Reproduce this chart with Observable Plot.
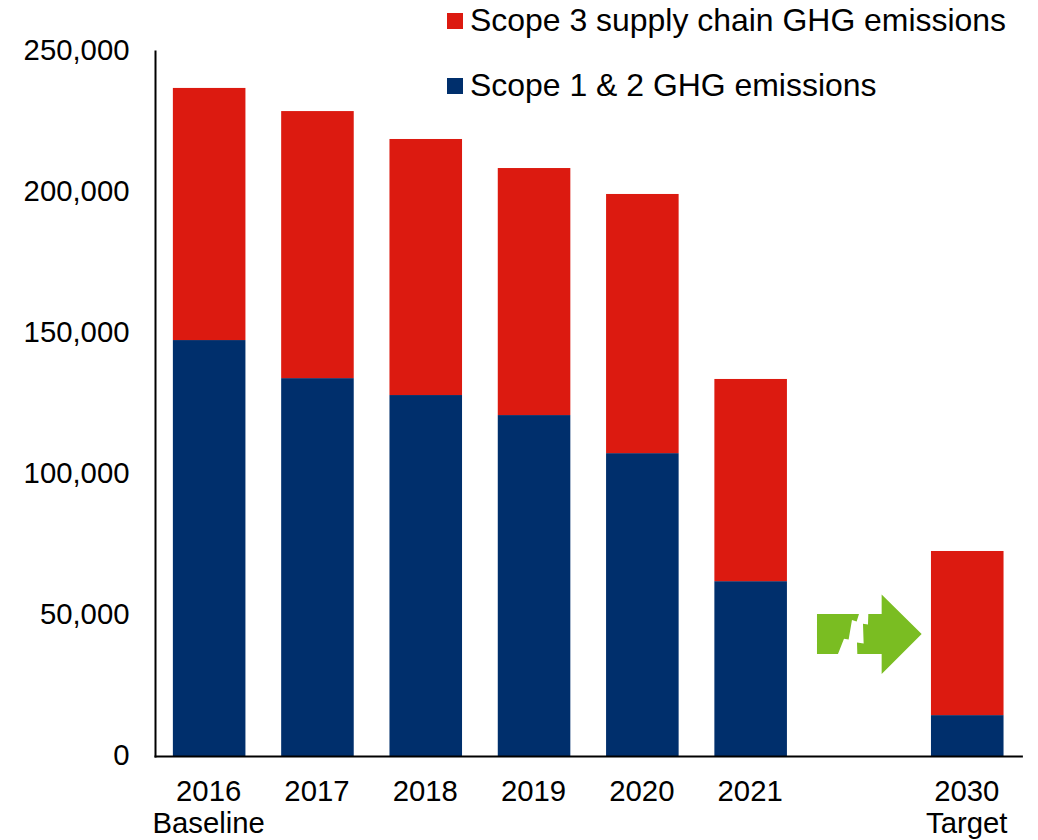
<!DOCTYPE html>
<html>
<head>
<meta charset="utf-8">
<script src="https://cdn.jsdelivr.net/npm/d3@7"></script>
<script src="https://cdn.jsdelivr.net/npm/@observablehq/plot@0.6"></script>
<style>
html,body{margin:0;padding:0;background:#fff;}
#wrap{position:relative;width:1038px;height:840px;overflow:hidden;font-family:"Liberation Sans",Arial,sans-serif;}
.lg{position:absolute;left:447px;display:flex;align-items:center;font-size:31.95px;line-height:32px;color:#000;white-space:nowrap;height:32px;}
.lg i{display:inline-block;width:16px;height:16px;margin-right:7px;}
.lg span{position:relative;top:-1px;}
</style>
</head>
<body>
<div id="wrap"></div>
<script>
const years = ["2016","2017","2018","2019","2020","2021","","2030"];
const tickLabels = ["2016\nBaseline","2017","2018","2019","2020","2021","","2030\nTarget"];
const barYears = ["2016","2017","2018","2019","2020","2021","2030"];
const scope12 = [147500,134000,128000,120900,107400,62000,14500];
const scope3 = [89400,94700,90800,87600,91900,71700,58200];
const seriesNames = ["Scope 1 & 2 GHG emissions","Scope 3 supply chain GHG emissions"];
const seriesColors = ["#002F6C","#DC1A10"];
const yTicks = [0,50000,100000,150000,200000,250000];
const arrowColor = "#7ABD22";
const arrowAt = [{x:"",y:43400}];

const rows = barYears.flatMap((year,i)=>[
  {year,series:seriesNames[0],value:scope12[i]},
  {year,series:seriesNames[1],value:scope3[i]}
]);

// break-arrow glyph, anchored on the empty category
const s = 1/3;
const poly = (c,pts)=>{pts.forEach(([a,b],i)=>i?c.lineTo(a*s,b*s):c.moveTo(a*s,b*s));c.closePath();};
const arrowSymbol = {draw(c){
  poly(c,[[-122,-60],[4,-60],[-3,-38],[-17,-42],[-27,16],[-41,14],[-59,60],[-122,60]]);
  poly(c,[[32,-60],[72,-60],[72,-119],[192,0],[72,120],[72,60],[-1,60],[-2,25],[18,28],[16,-31],[31,-29]]);
}};

const chart = Plot.plot({
  width:1038,height:840,
  marginLeft:155,marginRight:16.6,marginTop:51,marginBottom:84,
  style:{fontFamily:'"Liberation Sans",Arial,sans-serif',fontSize:"29.3px",color:"#000",background:"#fff",overflow:"visible"},
  x:{domain:years,paddingInner:0.33,paddingOuter:0.165,round:false,label:null},
  y:{domain:[0,250000],label:null},
  color:{domain:seriesNames,range:seriesColors},
  marks:[
    Plot.barY(rows,{x:"year",y:"value",fill:"series",order:seriesNames}),
    Plot.dot(arrowAt,{x:"x",y:"y",symbol:arrowSymbol,fill:arrowColor,stroke:null,r:1,dx:-1.8}),
    Plot.frame({anchor:"left",stroke:"#000",strokeWidth:2}),
    Plot.frame({anchor:"bottom",stroke:"#000",strokeWidth:2}),
    Plot.axisY({ticks:yTicks,tickSize:0,tickPadding:26,tickFormat:d3.format(","),label:null,fontSize:29.3,fill:"#000",dy:-0.7}),
    Plot.axisX({tickSize:0,tickPadding:22,label:null,fontSize:29.3,fill:"#000",lineHeight:1.09,dx:-1,
      tickFormat:d=>tickLabels[years.indexOf(d)]})
  ]
});
const wrap=document.getElementById("wrap");
wrap.appendChild(chart);
[[seriesNames[1],seriesColors[1],5],[seriesNames[0],seriesColors[0],70]].forEach(([t,c,top])=>{
  const d=document.createElement("div");d.className="lg";d.style.top=top+"px";
  const i=document.createElement("i");i.style.background=c;d.appendChild(i);
  const sp=document.createElement("span");sp.textContent=t;d.appendChild(sp);wrap.appendChild(d);
});
</script>
</body>
</html>
